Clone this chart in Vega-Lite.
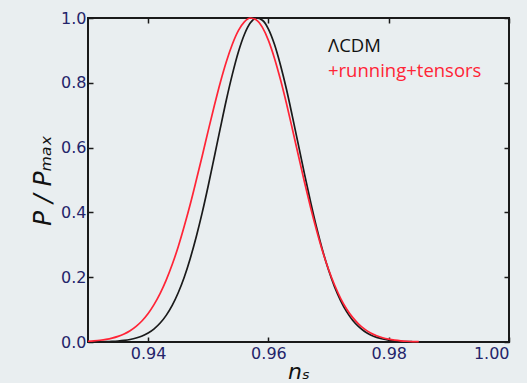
{
  "$schema": "https://vega.github.io/schema/vega-lite/v6.json",
  "width": 421,
  "height": 324,
  "autosize": "none",
  "padding": {"left": 88, "top": 18, "right": 18, "bottom": 41},
  "background": "#e9eef0",
  "config": {
    "view": {"stroke": "#1a1a1a", "strokeWidth": 2},
    "axis": {
      "domain": false,
      "grid": false,
      "tickColor": "#1a1a1a",
      "tickWidth": 1.5,
      "tickSize": -5,
      "labelFont": "DejaVu Sans",
      "labelFontSize": 16,
      "labelColor": "#24246a",
      "titleFont": "DejaVu Sans",
      "titleColor": "#111111",
      "titleFontWeight": "normal",
      "titleFontStyle": "italic"
    }
  },
  "datasets": {
    "lcdm": [
      {"ns": 0.930, "P": 0.0002}, {"ns": 0.931, "P": 0.0003}, {"ns": 0.932, "P": 0.0006}, {"ns": 0.933, "P": 0.0010},
      {"ns": 0.934, "P": 0.0018}, {"ns": 0.935, "P": 0.0030}, {"ns": 0.936, "P": 0.0049}, {"ns": 0.937, "P": 0.0078},
      {"ns": 0.938, "P": 0.0122}, {"ns": 0.939, "P": 0.0186}, {"ns": 0.940, "P": 0.0279}, {"ns": 0.941, "P": 0.0408},
      {"ns": 0.942, "P": 0.0585}, {"ns": 0.943, "P": 0.0822}, {"ns": 0.944, "P": 0.113}, {"ns": 0.945, "P": 0.152},
      {"ns": 0.946, "P": 0.200}, {"ns": 0.947, "P": 0.258}, {"ns": 0.948, "P": 0.325}, {"ns": 0.949, "P": 0.400},
      {"ns": 0.950, "P": 0.483}, {"ns": 0.951, "P": 0.571}, {"ns": 0.952, "P": 0.660}, {"ns": 0.953, "P": 0.747},
      {"ns": 0.954, "P": 0.826}, {"ns": 0.955, "P": 0.895}, {"ns": 0.956, "P": 0.949}, {"ns": 0.957, "P": 0.985},
      {"ns": 0.958, "P": 1.000}, {"ns": 0.959, "P": 0.993}, {"ns": 0.960, "P": 0.966}, {"ns": 0.961, "P": 0.919},
      {"ns": 0.962, "P": 0.855}, {"ns": 0.963, "P": 0.780}, {"ns": 0.964, "P": 0.695}, {"ns": 0.965, "P": 0.607},
      {"ns": 0.966, "P": 0.518}, {"ns": 0.967, "P": 0.433}, {"ns": 0.968, "P": 0.354}, {"ns": 0.969, "P": 0.283},
      {"ns": 0.970, "P": 0.222}, {"ns": 0.971, "P": 0.170}, {"ns": 0.972, "P": 0.128}, {"ns": 0.973, "P": 0.0936},
      {"ns": 0.974, "P": 0.0672}, {"ns": 0.975, "P": 0.0473}, {"ns": 0.976, "P": 0.0325}, {"ns": 0.977, "P": 0.0219},
      {"ns": 0.978, "P": 0.0144}, {"ns": 0.979, "P": 0.0093}, {"ns": 0.980, "P": 0.0059}, {"ns": 0.981, "P": 0.0036},
      {"ns": 0.982, "P": 0.0022}, {"ns": 0.983, "P": 0.0013}, {"ns": 0.984, "P": 0.0008}, {"ns": 0.985, "P": 0.0004}
    ],
    "running": [
      {"ns": 0.930, "P": 0.0023}, {"ns": 0.931, "P": 0.0036}, {"ns": 0.932, "P": 0.0054}, {"ns": 0.933, "P": 0.0081},
      {"ns": 0.934, "P": 0.0120}, {"ns": 0.935, "P": 0.0174}, {"ns": 0.936, "P": 0.0249}, {"ns": 0.937, "P": 0.0349},
      {"ns": 0.938, "P": 0.0483}, {"ns": 0.939, "P": 0.0657}, {"ns": 0.940, "P": 0.0879}, {"ns": 0.941, "P": 0.116},
      {"ns": 0.942, "P": 0.150}, {"ns": 0.943, "P": 0.191}, {"ns": 0.944, "P": 0.239}, {"ns": 0.945, "P": 0.294},
      {"ns": 0.946, "P": 0.357}, {"ns": 0.947, "P": 0.425}, {"ns": 0.948, "P": 0.499}, {"ns": 0.949, "P": 0.575},
      {"ns": 0.950, "P": 0.653}, {"ns": 0.951, "P": 0.729}, {"ns": 0.952, "P": 0.801}, {"ns": 0.953, "P": 0.865},
      {"ns": 0.954, "P": 0.919}, {"ns": 0.955, "P": 0.961}, {"ns": 0.956, "P": 0.988}, {"ns": 0.957, "P": 1.000},
      {"ns": 0.958, "P": 0.994}, {"ns": 0.959, "P": 0.971}, {"ns": 0.960, "P": 0.931}, {"ns": 0.961, "P": 0.876},
      {"ns": 0.962, "P": 0.810}, {"ns": 0.963, "P": 0.736}, {"ns": 0.964, "P": 0.656}, {"ns": 0.965, "P": 0.574},
      {"ns": 0.966, "P": 0.493}, {"ns": 0.967, "P": 0.416}, {"ns": 0.968, "P": 0.345}, {"ns": 0.969, "P": 0.280},
      {"ns": 0.970, "P": 0.224}, {"ns": 0.971, "P": 0.176}, {"ns": 0.972, "P": 0.135}, {"ns": 0.973, "P": 0.102},
      {"ns": 0.974, "P": 0.0760}, {"ns": 0.975, "P": 0.0554}, {"ns": 0.976, "P": 0.0397}, {"ns": 0.977, "P": 0.0279},
      {"ns": 0.978, "P": 0.0193}, {"ns": 0.979, "P": 0.0130}, {"ns": 0.980, "P": 0.0087}, {"ns": 0.981, "P": 0.0057},
      {"ns": 0.982, "P": 0.0036}, {"ns": 0.983, "P": 0.0023}, {"ns": 0.984, "P": 0.0014}, {"ns": 0.985, "P": 0.0009}
    ],
    "legend": [
      {"label": "ΛCDM", "ns": 0.9699, "P": 0.915, "model": "ΛCDM"},
      {"label": "+running+tensors", "ns": 0.9699, "P": 0.836, "model": "+running+tensors"}
    ]
  },
  "resolve": {"axis": {"x": "independent", "y": "independent"}},
  "layer": [
    {
      "data": {"name": "lcdm"},
      "mark": {"type": "line", "color": "#1a1a1a", "strokeWidth": 1.7, "interpolate": "monotone"},
      "encoding": {
        "x": {"field": "ns", "type": "quantitative", "scale": {"domain": [0.93, 1.0], "nice": false, "zero": false},
              "axis": {"orient": "bottom", "values": [0.94, 0.96, 0.98, 1.0], "format": ".2f", "labelPadding": 8,
                       "title": "nₛ", "titleFontSize": 22, "titlePadding": 0}},
        "y": {"field": "P", "type": "quantitative", "scale": {"domain": [0, 1], "nice": false},
              "axis": {"orient": "left", "values": [0, 0.2, 0.4, 0.6, 0.8, 1.0], "format": ".1f", "labelPadding": 7,
                       "title": "P / Pₘₐₓ", "titleFontSize": 25, "titlePadding": 5}}
      }
    },
    {
      "data": {"name": "running"},
      "mark": {"type": "line", "color": "#ff2436", "strokeWidth": 1.7, "interpolate": "monotone"},
      "encoding": {
        "x": {"field": "ns", "type": "quantitative",
              "axis": {"orient": "top", "values": [0.94, 0.96, 0.98, 1.0], "labels": false, "title": null}},
        "y": {"field": "P", "type": "quantitative",
              "axis": {"orient": "right", "values": [0, 0.2, 0.4, 0.6, 0.8, 1.0], "labels": false, "title": null}}
      }
    },
    {
      "data": {"name": "legend"},
      "mark": {"type": "text", "align": "left", "baseline": "middle", "font": "Open Sans", "fontSize": 18.5},
      "encoding": {
        "x": {"field": "ns", "type": "quantitative", "axis": null},
        "y": {"field": "P", "type": "quantitative", "axis": null},
        "text": {"field": "label"},
        "color": {"field": "model", "type": "nominal", "legend": null,
                  "scale": {"domain": ["ΛCDM", "+running+tensors"], "range": ["#111111", "#ff2436"]}}
      }
    }
  ]
}
